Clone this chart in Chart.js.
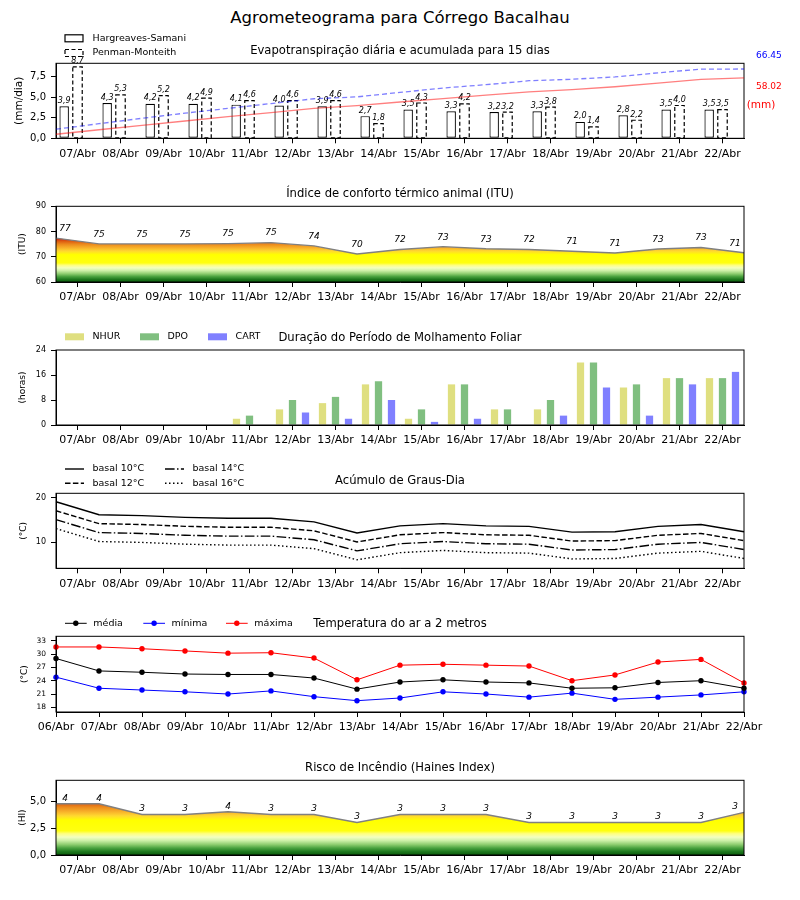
<!DOCTYPE html>
<html><head><meta charset="utf-8">
<script src="https://cdn.jsdelivr.net/npm/chart.js@4.4.1/dist/chart.umd.min.js"></script>
<style>
html,body{margin:0;padding:0;background:#fff;}
#wrap{position:relative;width:800px;height:900px;overflow:hidden;font-family:'DejaVu Sans',sans-serif;}
#title{position:absolute;left:0;top:7px;width:800px;text-align:center;font-size:16.5px;line-height:22px;color:#000;}
canvas.layer{position:absolute;left:0;top:0;}
</style></head><body>
<div id="wrap">
<div id="title">Agrometeograma para Córrego Bacalhau</div>
<canvas class="layer" id="c1" width="800" height="900"></canvas>
<canvas class="layer" id="c1b" width="800" height="900"></canvas>
<canvas class="layer" id="c2" width="800" height="900"></canvas>
<canvas class="layer" id="c3" width="800" height="900"></canvas>
<canvas class="layer" id="c4" width="800" height="900"></canvas>
<canvas class="layer" id="c5" width="800" height="900"></canvas>
<canvas class="layer" id="c6" width="800" height="900"></canvas>
</div>
<script>
// ---------------- DATA ----------------
const days16 = ['07/Abr','08/Abr','09/Abr','10/Abr','11/Abr','12/Abr','13/Abr','14/Abr','15/Abr','16/Abr','17/Abr','18/Abr','19/Abr','20/Abr','21/Abr','22/Abr'];
const days17 = ['06/Abr','07/Abr','08/Abr','09/Abr','10/Abr','11/Abr','12/Abr','13/Abr','14/Abr','15/Abr','16/Abr','17/Abr','18/Abr','19/Abr','20/Abr','21/Abr','22/Abr'];

const etHargreaves = [3.9,4.3,4.2,4.2,4.1,4.0,3.9,2.7,3.5,3.3,3.2,3.3,2.0,2.8,3.5,3.5];
const etPenman     = [8.7,5.3,5.2,4.9,4.6,4.6,4.6,1.8,4.3,4.2,3.2,3.8,1.4,2.2,4.0,3.5];
const accHargreaves = [3.9,8.2,12.4,16.6,20.7,24.7,28.6,31.3,34.8,38.1,41.3,44.6,46.6,49.4,52.9,56.4,58.02];
const accPenman     = [8.7,14.0,19.2,24.1,28.7,33.3,37.9,39.7,44.0,48.2,51.4,55.2,56.6,58.8,62.8,66.3,66.45];
const etTicks = [0,2.5,5,7.5];

const itu       = [77.4,75.1,75.1,75.1,75.2,75.6,74.3,71.1,72.9,74.0,73.2,72.9,72.2,71.5,73.1,73.7,71.6];
const ituLabels = [77,75,75,75,75,75,74,70,72,73,73,72,71,71,73,73,71];
const ituTicks = [60,70,80,90];

const nhur = [0,0,0,0,2,5,7,13,2,13,5,5,20,12,15,15];
const dpo  = [0,0,0,0,3,8,9,14,5,13,5,8,20,13,15,15];
const cart = [0,0,0,0,0,4,2,8,1,2,0,3,12,3,13,17];
const molTicks = [0,8,16,24];

const gd10 = [19.1,16.2,16.0,15.6,15.4,15.4,14.6,12.1,13.7,14.2,13.7,13.6,12.3,12.4,13.6,14.0,12.4];
const gd12 = [17.1,14.2,14.0,13.6,13.4,13.4,12.6,10.1,11.7,12.2,11.7,11.6,10.3,10.4,11.6,12.0,10.4];
const gd14 = [15.1,12.2,12.0,11.6,11.4,11.4,10.6,8.1,9.7,10.2,9.7,9.6,8.3,8.4,9.6,10.0,8.4];
const gd16 = [13.1,10.2,10.0,9.6,9.4,9.4,8.6,6.1,7.7,8.2,7.7,7.6,6.3,6.4,7.6,8.0,6.4];
const gdTicks = [10,20];

const tMedia  = [29.0,26.2,25.9,25.5,25.4,25.4,24.6,22.1,23.7,24.2,23.7,23.5,22.3,22.4,23.6,24.0,22.3];
const tMinima = [24.8,22.3,21.9,21.5,21.0,21.7,20.4,19.5,20.1,21.5,21.0,20.3,21.2,19.8,20.3,20.8,21.5];
const tMaxima = [31.6,31.6,31.2,30.7,30.2,30.3,29.1,24.2,27.5,27.7,27.5,27.3,24.0,25.3,28.2,28.8,23.5];
const tTicks = [18,21,24,27,30,33];

const haines       = [4.8,4.8,3.8,3.8,4.05,3.8,3.8,3.05,3.8,3.8,3.8,3.05,3.05,3.05,3.05,3.05,4.0];
const hainesLabels = [4,4,3,3,4,3,3,3,3,3,3,3,3,3,3,3,3];
const hiTicks = [0,2.5,5];

// ---------------- STYLE / HELPERS ----------------
const FONT = "'DejaVu Sans', sans-serif";
Chart.defaults.font.family = FONT;
Chart.defaults.color = '#000';
Chart.defaults.animation = false;
Chart.defaults.plugins.legend.display = false;
Chart.defaults.plugins.tooltip.enabled = false;

const PLOT_L = 56, PLOT_R = 744, XH = 25;
const fmt1 = v => Number(v).toFixed(1).replace('.', ',');

const cmap = [
  [0.00,'#0b5a0b'],[0.06,'#1f7a1f'],[0.12,'#4aa23f'],[0.18,'#8ccc6e'],[0.25,'#cdf0a8'],
  [0.31,'#f3ffc0'],[0.37,'#ffff80'],[0.42,'#ffff10'],[0.60,'#ffff00'],[0.68,'#ffd830'],
  [0.75,'#f8b22a'],[0.83,'#ec8a1c'],[0.90,'#dc5a10'],[0.96,'#c82010'],[1.00,'#c00000']
];
function gradFill(vmin, vmax) {
  return (c) => {
    const ch = c.chart;
    if (!ch.chartArea) return 'transparent';
    const ys = ch.scales.y;
    const g = ch.ctx.createLinearGradient(0, ys.getPixelForValue(vmin), 0, ys.getPixelForValue(vmax));
    cmap.forEach(([t, col]) => g.addColorStop(t, col));
    return g;
  };
}

function xCat(labels, show, offset) {
  return {
    type: 'category', labels, offset, display: show,
    grid: {display: true, offset: false, drawOnChartArea: false, drawTicks: true, tickLength: 5, color: '#000', lineWidth: 1},
    border: {display: true, color: '#000', width: 1},
    ticks: {autoSkip: false, maxRotation: 0, minRotation: 0, padding: 4, font: {size: 11}, color: '#000'},
    afterFit(s) { s.height = XH; }
  };
}
function yLin(min, max, ticks, fmt, size) {
  return {
    type: 'linear', min, max,
    afterBuildTicks(s) { s.ticks = ticks.map(v => ({value: v})); },
    grid: {display: true, drawOnChartArea: false, drawTicks: true, tickLength: 5, color: '#000', lineWidth: 1},
    border: {display: true, color: '#000', width: 1},
    ticks: {padding: 5, font: {size}, color: '#000', callback: fmt},
    afterFit(s) { s.width = PLOT_L; }
  };
}
function layout(top, bottom) {
  return {padding: {left: 0, right: 800 - PLOT_R, top: top, bottom: 900 - bottom - XH}};
}

const deco = {
  id: 'deco',
  afterDraw(chart, args, o) {
    if (!o || !o.title) return;
    const ctx = chart.ctx, a = chart.chartArea;
    ctx.save();
    if (o.extra) o.extra(chart, ctx, a);
    ctx.strokeStyle = '#000'; ctx.lineWidth = 1; ctx.setLineDash([]);
    ctx.strokeRect(a.left, a.top, a.right - a.left, a.bottom - a.top);
    ctx.fillStyle = '#000';
    ctx.font = `11.6px ${FONT}`;
    ctx.textAlign = 'center'; ctx.textBaseline = 'middle';
    ctx.fillText(o.title, (a.left + a.right) / 2, a.top - 12.5);
    ctx.save();
    ctx.translate(o.ylabelX, (a.top + a.bottom) / 2);
    ctx.rotate(-Math.PI / 2);
    ctx.font = `${o.ylabelSize}px ${FONT}`;
    ctx.fillText(o.ylabel, 0, 0);
    ctx.restore();
    ctx.restore();
  }
};
Chart.register(deco);

function legendText(ctx, txt, x, y) {
  ctx.fillStyle = '#000'; ctx.font = `9.5px ${FONT}`;
  ctx.textAlign = 'left'; ctx.textBaseline = 'middle';
  ctx.fillText(txt, x, y);
}
function pointLabels(chart, ctx, labels, dy) {
  const meta = chart.getDatasetMeta(0), a = chart.chartArea;
  ctx.fillStyle = '#000'; ctx.font = `italic 9px ${FONT}`;
  ctx.textAlign = 'center'; ctx.textBaseline = 'middle';
  meta.data.forEach((el, i) => {
    const x = Math.min(Math.max(el.x, a.left + 9), a.right - 9);
    ctx.fillText(String(labels[i]), x, el.y - dy);
  });
}

// ---------------- PANEL 1: Evapotranspiração (bars) ----------------
new Chart(document.getElementById('c1'), {
  type: 'bar',
  data: {
    labels: days16,
    datasets: [
      {label: 'Hargreaves-Samani', data: etHargreaves, backgroundColor: '#fff', borderColor: '#000', borderWidth: 1.2, borderSkipped: false},
      {label: 'Penman-Monteith', data: etPenman, backgroundColor: '#fff', borderWidth: 0},
      {label: '', data: days16.map(() => null), backgroundColor: 'transparent', borderWidth: 0}
    ]
  },
  options: {
    responsive: false, devicePixelRatio: 1,
    layout: layout(63.3, 138.3),
    datasets: {bar: {categoryPercentage: 0.93, barPercentage: 0.71}},
    scales: {
      x: xCat(days16, true, true),
      y: yLin(0, 9.14, etTicks, v => fmt1(v), 10)
    },
    plugins: {
      deco: {
        title: 'Evapotranspiração diária e acumulada para 15 dias', ylabel: '(mm/dia)', ylabelX: 19, ylabelSize: 10.5,
        extra(chart, ctx, a) {
          const m = chart.getDatasetMeta(1);
          ctx.strokeStyle = '#000'; ctx.lineWidth = 1.2; ctx.setLineDash([4, 2.5]);
          m.data.forEach(el => { ctx.strokeRect(el.x - el.width / 2, el.y, el.width, el.base - el.y); });
          ctx.setLineDash([]);
          ctx.fillStyle = '#000'; ctx.font = `italic 8px ${FONT}`; ctx.textAlign = 'center'; ctx.textBaseline = 'alphabetic';
          [0, 1].forEach(di => {
            const meta = chart.getDatasetMeta(di), vals = chart.data.datasets[di].data;
            meta.data.forEach((el, i) => ctx.fillText(fmt1(vals[i]), el.x, el.y - 3.5));
          });
          const lx = a.left + 9;
          ctx.lineWidth = 1.2;
          ctx.setLineDash([]); ctx.strokeRect(lx, a.top - 28.5, 18, 7);
          ctx.setLineDash([4, 2.5]); ctx.strokeRect(lx, a.top - 13.8, 18, 7);
          ctx.setLineDash([]);
          legendText(ctx, chart.data.datasets[0].label, lx + 27.5, a.top - 25);
          legendText(ctx, chart.data.datasets[1].label, lx + 27.5, a.top - 10.3);
          ctx.textAlign = 'left'; ctx.textBaseline = 'middle';
          ctx.font = `9px ${FONT}`;
          ctx.fillStyle = '#0000ff'; ctx.fillText(accPenman[accPenman.length - 1].toFixed(2), a.right + 12, a.top - 7.6);
          ctx.fillStyle = '#ff0000'; ctx.fillText(accHargreaves[accHargreaves.length - 1].toFixed(2), a.right + 12, a.top + 23);
          ctx.font = `10.5px ${FONT}`;
          ctx.fillText('(mm)', a.right + 2.7, a.top + 42);
        }
      }
    }
  }
});

// ---------------- PANEL 1b: accumulated lines (overlay, same plot area) ----------------
new Chart(document.getElementById('c1b'), {
  type: 'line',
  data: {
    labels: days17,
    datasets: [
      {label: 'acumulada PM', data: accPenman, borderColor: 'rgba(0,0,255,0.5)', borderDash: [5, 3], borderWidth: 1.3, pointRadius: 0, tension: 0, fill: false},
      {label: 'acumulada HS', data: accHargreaves, borderColor: 'rgba(255,0,0,0.5)', borderWidth: 1.3, pointRadius: 0, tension: 0, fill: false}
    ]
  },
  options: {
    responsive: false, devicePixelRatio: 1,
    layout: {padding: {left: PLOT_L, right: 800 - PLOT_R, top: 63.3, bottom: 900 - 138.3}},
    scales: {
      x: {type: 'category', offset: false, display: false},
      y: {type: 'linear', min: 0, max: 71.9, display: false}
    }
  }
});

// ---------------- PANEL 2: ITU ----------------
new Chart(document.getElementById('c2'), {
  type: 'line',
  data: {
    datasets: [{data: itu, xAxisID: 'xp', yAxisID: 'y', fill: 'start', backgroundColor: gradFill(60, 78), borderColor: '#808080', borderWidth: 1.4, pointRadius: 0, tension: 0}]
  },
  options: {
    responsive: false, devicePixelRatio: 1,
    layout: layout(206.3, 282),
    scales: {
      x: xCat(days16, true, true),
      xp: {type: 'category', labels: days17, offset: false, display: false},
      y: yLin(60, 90, ituTicks, v => String(v), 8)
    },
    plugins: {
      deco: {
        title: 'Índice de conforto térmico animal (ITU)', ylabel: '(ITU)', ylabelX: 23, ylabelSize: 9,
        extra(chart, ctx) { pointLabels(chart, ctx, ituLabels, 9.5); }
      }
    }
  }
});

// ---------------- PANEL 3: Molhamento Foliar ----------------
new Chart(document.getElementById('c3'), {
  type: 'bar',
  data: {
    labels: days16,
    datasets: [
      {label: 'NHUR', data: nhur, backgroundColor: '#dfdf80', borderWidth: 0},
      {label: 'DPO', data: dpo, backgroundColor: '#80bf80', borderWidth: 0},
      {label: 'CART', data: cart, backgroundColor: '#8080ff', borderWidth: 0}
    ]
  },
  options: {
    responsive: false, devicePixelRatio: 1,
    layout: layout(350, 425),
    datasets: {bar: {categoryPercentage: 0.907, barPercentage: 0.56}},
    scales: {
      x: xCat(days16, true, true),
      y: yLin(0, 24, molTicks, v => String(v), 8)
    },
    plugins: {
      deco: {
        title: 'Duração do Período de Molhamento Foliar', ylabel: '(horas)', ylabelX: 23, ylabelSize: 9,
        extra(chart, ctx, a) {
          const pos = [a.left + 9, a.left + 84, a.left + 152];
          chart.data.datasets.forEach((ds, i) => {
            ctx.fillStyle = ds.backgroundColor;
            ctx.fillRect(pos[i], a.top - 16.7, 19, 7);
            legendText(ctx, ds.label, pos[i] + 27.5, a.top - 13.3);
          });
        }
      }
    }
  }
});

// ---------------- PANEL 4: Graus-Dia ----------------
const gdStyles = [[], [5.5, 2.4], [9.6, 2.4, 1.5, 2.4], [1.5, 2.5]];
new Chart(document.getElementById('c4'), {
  type: 'line',
  data: {
    datasets: [
      {label: 'basal 10°C', data: gd10, borderDash: gdStyles[0]},
      {label: 'basal 12°C', data: gd12, borderDash: gdStyles[1]},
      {label: 'basal 14°C', data: gd14, borderDash: gdStyles[2]},
      {label: 'basal 16°C', data: gd16, borderDash: gdStyles[3]}
    ].map(d => Object.assign(d, {xAxisID: 'xp', yAxisID: 'y', borderColor: '#000', borderWidth: 1.4, pointRadius: 0, tension: 0, fill: false}))
  },
  options: {
    responsive: false, devicePixelRatio: 1,
    layout: layout(493.3, 568.3),
    scales: {
      x: xCat(days16, true, true),
      xp: {type: 'category', labels: days17, offset: false, display: false},
      y: yLin(4.2, 21, gdTicks, v => String(v), 8)
    },
    plugins: {
      deco: {
        title: 'Acúmulo de Graus-Dia', ylabel: '(°C)', ylabelX: 24, ylabelSize: 9,
        extra(chart, ctx, a) {
          const cols = [a.left + 9, a.left + 109];
          const rows = [a.top - 24.3, a.top - 10];
          const place = [[0, 0], [0, 1], [1, 0], [1, 1]];
          chart.data.datasets.forEach((ds, i) => {
            const x = cols[place[i][0]], y = rows[place[i][1]];
            ctx.strokeStyle = '#000'; ctx.lineWidth = 1.4; ctx.setLineDash(ds.borderDash);
            ctx.beginPath(); ctx.moveTo(x, y); ctx.lineTo(x + 19, y); ctx.stroke();
            ctx.setLineDash([]);
            legendText(ctx, ds.label, x + 27.5, y);
          });
        }
      }
    }
  }
});

// ---------------- PANEL 5: Temperatura ----------------
new Chart(document.getElementById('c5'), {
  type: 'line',
  data: {
    labels: days17,
    datasets: [
      {label: 'média', data: tMedia, color: '#000000'},
      {label: 'mínima', data: tMinima, color: '#0000ff'},
      {label: 'máxima', data: tMaxima, color: '#ff0000'}
    ].map(d => Object.assign(d, {borderColor: d.color, pointBackgroundColor: d.color, pointBorderColor: d.color, pointBorderWidth: 0, pointRadius: 2.7, borderWidth: 1, tension: 0, fill: false}))
  },
  options: {
    responsive: false, devicePixelRatio: 1,
    layout: layout(636.3, 712),
    scales: {
      x: xCat(days17, true, false),
      y: yLin(16.95, 34, tTicks, v => String(v), 7.5)
    },
    plugins: {
      deco: {
        title: 'Temperatura do ar a 2 metros', ylabel: '(°C)', ylabelX: 25, ylabelSize: 9,
        extra(chart, ctx, a) {
          const xs = [a.left + 9, a.left + 87.3, a.left + 170];
          const y = a.top - 13;
          chart.data.datasets.forEach((ds, i) => {
            const x = xs[i];
            ctx.strokeStyle = ds.color; ctx.lineWidth = 1; ctx.setLineDash([]);
            ctx.beginPath(); ctx.moveTo(x, y); ctx.lineTo(x + 21.7, y); ctx.stroke();
            ctx.fillStyle = ds.color;
            ctx.beginPath(); ctx.arc(x + 10.8, y, 2.7, 0, Math.PI * 2); ctx.fill();
            legendText(ctx, ds.label, x + 28.3, y);
          });
        }
      }
    }
  }
});

// ---------------- PANEL 6: Haines ----------------
new Chart(document.getElementById('c6'), {
  type: 'line',
  data: {
    datasets: [{data: haines, xAxisID: 'xp', yAxisID: 'y', fill: 'start', backgroundColor: gradFill(0, 5.4), borderColor: '#808080', borderWidth: 1.4, pointRadius: 0, tension: 0}]
  },
  options: {
    responsive: false, devicePixelRatio: 1,
    layout: layout(780.3, 855),
    scales: {
      x: xCat(days16, true, true),
      xp: {type: 'category', labels: days17, offset: false, display: false},
      y: yLin(0, 7, hiTicks, v => fmt1(v), 10)
    },
    plugins: {
      deco: {
        title: 'Risco de Incêndio (Haines Index)', ylabel: '(HI)', ylabelX: 23, ylabelSize: 9,
        extra(chart, ctx) { pointLabels(chart, ctx, hainesLabels, 5.5); }
      }
    }
  }
});
</script>
</body></html>
